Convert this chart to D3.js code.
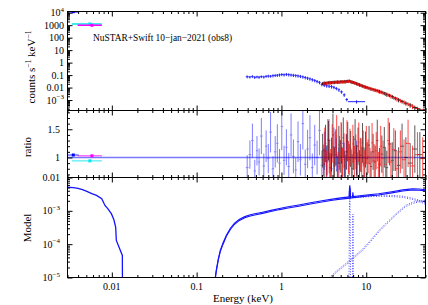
<!DOCTYPE html>
<html><head><meta charset="utf-8">
<script src="https://cdn.jsdelivr.net/npm/d3@7"></script>
<style>
body{margin:0;background:#fff}
svg{display:block}
text{font-family:"Liberation Serif","Times New Roman",serif;fill:#000}
</style></head>
<body><svg id="c" width="428" height="305"></svg>
<script>
// ---------- axis limits & tick labels ----------
const xLimits = [0.003, 50];
const topLimits = [1.45e-4, 1.25e4];
const ratioLimits = [0.645, 1.833];
const modelLimits = [1e-5, 1e-2];
const xTickValues = [0.01, 0.1, 1, 10];
const xTickLabels = ["0.01", "0.1", "1", "10"];
const topTickValues = [1e4, 1e3, 100, 10, 1, 0.1, 0.01, 1e-3];
const topTickLabels = ["10^4", "1000", "100", "10", "1", "0.1", "0.01", "10^−3"];
const ratioTickValues = [1.5, 1];
const ratioTickLabels = ["1.5", "1"];
const modelTickValues = [1e-2, 1e-3, 1e-4, 1e-5];
const modelTickLabels = ["0.01", "10^−3", "10^−4", "10^−5"];
const annotation = "NuSTAR+Swift 10−jan−2021 (obs8)";

// ---------- Swift/UVOT ----------
const uvotLo = [0.00303, 0.00338, 0.00395];
const uvotHi = [0.00406, 0.00763, 0.00763];
const uvotMid = [0.00351, 0.00551, 0.00582];
const uvotCounts = [1.2e4, 1260, 980];
const uvotRatio = [1.044, 0.94, 1.03];
const uvotRatioErr = [0.012, 0.012, 0.012];

// ---------- Swift/XRT ----------
const xrtEdges = [0.38,0.41,0.44,0.47,0.50,0.53,0.56,0.60,0.64,0.68,0.72,0.77,0.82,0.87,0.92,0.98,1.04,1.11,1.18,1.26,1.34,1.43,1.52,1.62,1.73,1.85,1.97,2.10,2.24,2.39,2.55,2.72,2.90,3.10,3.31,3.53,3.77,4.03,4.30,4.60,4.93,5.30,5.70,6.10,9.70];
const xrtCounts = [0.074,0.070,0.078,0.066,0.072,0.068,0.075,0.071,0.080,0.084,0.082,0.090,0.094,0.098,0.104,0.112,0.106,0.115,0.108,0.102,0.098,0.092,0.086,0.080,0.072,0.064,0.057,0.050,0.043,0.037,0.031,0.026,0.018,0.016,0.014,0.013,0.012,0.0105,0.0085,0.0066,0.0045,0.0026,0.0011,0.00074];
const xrtRatio = [0.82,1.05,1.30,0.76,1.12,0.92,1.38,0.85,1.20,0.98,1.45,0.80,1.10,1.25,0.90,1.55,0.95,1.18,0.84,1.40,1.02,0.78,1.28,0.96,1.60,0.88,1.15,1.35,0.82,1.22,1.00,1.48,0.86,1.12,0.92,1.30,0.80,1.18,1.05,0.90,1.25,0.96,1.10,1.00];
const xrtErr = [0.22,0.25,0.30,0.20,0.26,0.24,0.32,0.22,0.28,0.26,0.36,0.22,0.28,0.34,0.25,0.42,0.26,0.32,0.24,0.38,0.30,0.22,0.36,0.28,0.46,0.26,0.34,0.40,0.25,0.36,0.30,0.44,0.26,0.34,0.28,0.38,0.25,0.35,0.30,0.28,0.36,0.30,0.32,0.30];

// ---------- NuSTAR FPMA (black) ----------
const fpmaEdges = [3.00,3.12,3.25,3.38,3.52,3.66,3.81,3.97,4.13,4.30,4.48,4.66,4.85,5.05,5.26,5.47,5.70,5.93,6.17,6.42,6.68,6.96,7.24,7.54,7.85,8.17,8.50,8.85,9.22,9.60,10.0,10.5,11.1,11.7,12.4,13.1,13.9,14.8,15.8,16.9,18.1,19.5,21.1,23.0,25.2,27.8,31.0,35.0,40.0,46.0];
const fpmaCounts = [0.0215,0.0235,0.0228,0.0245,0.0250,0.0262,0.0258,0.0275,0.0270,0.0285,0.0290,0.0282,0.0300,0.0305,0.0298,0.0312,0.0320,0.0330,0.0345,0.0305,0.0280,0.0262,0.0235,0.0212,0.0190,0.0170,0.0155,0.0138,0.0125,0.0112,0.0102,0.0090,0.0080,0.0071,0.0064,0.0057,0.0050,0.0043,0.0035,0.0029,0.0024,0.0019,0.0014,0.00105,0.00078,0.00056,0.00040,0.00025,0.00016];
const fpmaRatio = [1.12,0.88,1.25,0.95,1.30,0.82,1.05,1.40,0.90,1.18,0.78,1.22,1.02,0.92,1.35,0.85,1.10,1.28,0.96,1.15,0.80,1.08,1.32,0.94,1.20,0.86,1.04,1.26,0.90,1.14,0.98,1.22,0.84,1.10,0.92,1.30,0.88,1.06,1.18,0.82,1.24,0.95,1.12,0.86,1.20,1.00,0.90,1.15,1.05];
const fpmaErr = [0.30,0.28,0.33,0.27,0.35,0.26,0.30,0.38,0.27,0.32,0.25,0.34,0.29,0.27,0.36,0.26,0.31,0.35,0.28,0.32,0.26,0.30,0.36,0.28,0.33,0.27,0.30,0.35,0.28,0.32,0.29,0.34,0.27,0.32,0.29,0.37,0.29,0.33,0.36,0.30,0.38,0.32,0.36,0.32,0.40,0.36,0.35,0.42,0.40];

// ---------- NuSTAR FPMB (red) ----------
const fpmbEdges = [3.06,3.18,3.31,3.45,3.59,3.73,3.89,4.05,4.21,4.39,4.57,4.75,4.95,5.15,5.36,5.58,5.81,6.05,6.30,6.55,6.82,7.10,7.39,7.69,8.01,8.33,8.67,9.03,9.41,9.80,10.25,10.8,11.4,12.05,12.75,13.5,14.35,15.3,16.35,17.5,18.8,20.3,22.0,24.1,26.5,29.4,33.0,37.5,43.0,50.0];
const fpmbCounts = [0.0205,0.0226,0.0220,0.0236,0.0244,0.0248,0.0255,0.0262,0.0266,0.0274,0.0280,0.0276,0.0288,0.0296,0.0292,0.0302,0.0310,0.0318,0.0325,0.0290,0.0268,0.0245,0.0222,0.0200,0.0180,0.0162,0.0146,0.0130,0.0118,0.0106,0.0096,0.0085,0.0075,0.0067,0.0060,0.0052,0.0045,0.0038,0.0032,0.0026,0.0021,0.0016,0.00125,0.00092,0.00068,0.00048,0.00032,0.00021,0.00014];
const fpmbRatio = [0.95,1.20,0.85,1.32,1.02,0.88,1.25,0.92,1.15,1.38,0.84,1.08,1.28,0.90,1.12,0.80,1.30,1.00,1.18,0.87,1.24,0.93,1.10,0.83,1.27,1.05,0.91,1.16,0.86,1.22,1.02,0.89,1.26,0.94,1.12,0.82,1.20,0.98,0.88,1.30,0.92,1.14,0.80,1.10,0.96,1.25,0.85,1.05,0.98];
const fpmbErr = [0.28,0.33,0.27,0.36,0.30,0.27,0.34,0.28,0.31,0.37,0.26,0.30,0.35,0.27,0.31,0.25,0.36,0.29,0.33,0.27,0.34,0.28,0.31,0.26,0.35,0.30,0.28,0.32,0.27,0.34,0.30,0.28,0.35,0.30,0.33,0.28,0.36,0.32,0.30,0.40,0.34,0.38,0.32,0.38,0.36,0.42,0.36,0.40,0.38];

// ---------- Model components ----------
const modelE = [0.160,0.170,0.180,0.190,0.205,0.225,0.25,0.28,0.32,0.37,0.43,0.50,0.60,0.75,0.95,1.2,1.6,2.2,3.0,4.0,5.0,6.0,6.30,6.34,6.40,6.46,6.52,6.9,6.96,7.02,8.0,10,14,20,27,35,42,50];
const modelA = [5e-6,1.6e-5,3.6e-5,6.5e-5,1.1e-4,1.9e-4,3.0e-4,4.3e-4,5.6e-4,6.7e-4,7.6e-4,8.3e-4,9.1e-4,1.03e-3,1.18e-3,1.32e-3,1.5e-3,1.75e-3,2.0e-3,2.25e-3,2.45e-3,2.58e-3,2.6e-3,4.5e-3,5.8e-3,4.5e-3,2.62e-3,2.66e-3,3.6e-3,2.68e-3,2.8e-3,3.0e-3,3.25e-3,3.75e-3,4.25e-3,4.55e-3,4.5e-3,4.3e-3];
const modelB = [4.4e-6,1.45e-5,3.3e-5,6.0e-5,1.0e-4,1.75e-4,2.75e-4,3.95e-4,5.15e-4,6.2e-4,7.0e-4,7.65e-4,8.4e-4,9.5e-4,1.09e-3,1.21e-3,1.38e-3,1.61e-3,1.84e-3,2.07e-3,2.25e-3,2.37e-3,2.4e-3,3.9e-3,4.9e-3,3.9e-3,2.41e-3,2.45e-3,3.1e-3,2.47e-3,2.58e-3,2.76e-3,3.0e-3,3.45e-3,3.92e-3,4.2e-3,4.15e-3,3.96e-3];
const uvModelE = [0.0030,0.0035,0.0040,0.0045,0.0050,0.0058,0.0066,0.0076,0.0083,0.0090,0.0099,0.0106,0.0111,0.0112,0.0113,0.0122,0.0133,0.01335];
const uvModel = [5.1e-3,5.0e-3,4.7e-3,4.3e-3,3.9e-3,3.3e-3,2.9e-3,2.3e-3,1.45e-3,1.15e-3,8.1e-4,5.3e-4,3.2e-4,2.0e-4,1.3e-4,8e-5,4.6e-5,5e-6];
const cutoffE = [6,7,10,14,20,27,35,42,50];
const cutoffA = [2.55e-3,2.65e-3,2.85e-3,2.95e-3,2.9e-3,2.75e-3,2.4e-3,2.1e-3,1.7e-3];
const cutoffB = [2.35e-3,2.44e-3,2.62e-3,2.72e-3,2.67e-3,2.53e-3,2.2e-3,1.93e-3,1.56e-3];
const reflE = [3.3,3.67,4.5,5.7,7.2,9.1,11.5,14.1,18,22.3,29,35,41,50];
const reflA = [5e-6,1e-5,1.6e-5,2.6e-5,4.3e-5,7.2e-5,1.4e-4,2.6e-4,4.8e-4,8.1e-4,1.45e-3,1.8e-3,2.0e-3,2.1e-3];
const reflB = [4.5e-6,9e-6,1.45e-5,2.35e-5,3.9e-5,6.5e-5,1.27e-4,2.35e-4,4.35e-4,7.4e-4,1.32e-3,1.65e-3,1.83e-3,1.92e-3];
const feKaE = [6.22,6.28,6.34,6.40,6.46,6.52,6.58];
const feKa = [1e-6,2e-5,1.1e-3,3.0e-3,1.1e-3,2e-5,1e-6];
const feXXVIE = [6.88,6.92,6.97,7.02,7.06];
const feXXVI = [1e-6,6e-5,8e-4,6e-5,1e-6];

// ---------- layout ----------
const L = 67.5, R = 425.5;
const P = {
  top:   {y0: 11.5,  y1: 110.5},
  ratio: {y0: 110.5, y1: 177.5},
  model: {y0: 177.5, y1: 277.5}
};
const svg = d3.select("#c");
const x = d3.scaleLog().domain(xLimits).range([L, R]);
const yTop = d3.scaleLog().domain(topLimits).range([P.top.y1, P.top.y0]);
const yRat = d3.scaleLinear().domain(ratioLimits).range([P.ratio.y1, P.ratio.y0]);
const yMod = d3.scaleLog().domain(modelLimits).range([P.model.y1, P.model.y0]);

const defs = svg.append("defs");
Object.entries(P).forEach(([k, p]) => {
  defs.append("clipPath").attr("id", "clip-" + k).append("rect")
    .attr("x", L).attr("y", p.y0).attr("width", R - L).attr("height", p.y1 - p.y0);
});
const gTop = svg.append("g").attr("clip-path", "url(#clip-top)");
const gRat = svg.append("g").attr("clip-path", "url(#clip-ratio)");
const gMod = svg.append("g").attr("clip-path", "url(#clip-model)");

// cross drawer
function crosses(g, edges, vals, errs, yS, color, w, op) {
  const idx = d3.range(vals.length);
  const gg = g.append("g").attr("stroke", color).attr("stroke-width", w).attr("opacity", op);
  gg.selectAll(null).data(idx).join("line")
    .attr("x1", i => x(edges[i])).attr("x2", i => x(edges[i + 1]))
    .attr("y1", i => yS(vals[i])).attr("y2", i => yS(vals[i]));
  gg.selectAll(null).data(idx).join("line")
    .attr("x1", i => x(Math.sqrt(edges[i] * edges[i + 1])))
    .attr("x2", i => x(Math.sqrt(edges[i] * edges[i + 1])))
    .attr("y1", i => yS(vals[i] - errs[i])).attr("y2", i => yS(vals[i] + errs[i]));
}
const relErr = (c, r, e) => c.map((v, i) => v * e[i] / r[i]);

// ---- top panel ----
const uvColors = ["#0000ff", "#00e5ee", "#ff00ff"];
const uvOrder = [1, 2, 0];
uvOrder.forEach(i => {
  gTop.append("line").attr("stroke", uvColors[i]).attr("stroke-width", 1.6)
    .attr("x1", x(uvotLo[i])).attr("x2", x(uvotHi[i]))
    .attr("y1", yTop(uvotCounts[i])).attr("y2", yTop(uvotCounts[i]));
  gTop.append("rect").attr("fill", uvColors[i])
    .attr("x", x(uvotMid[i]) - 1.5).attr("y", yTop(uvotCounts[i]) - 1.5)
    .attr("width", 3).attr("height", 3);
});
crosses(gTop, xrtEdges, xrtCounts, relErr(xrtCounts, xrtRatio, xrtErr), yTop, "#0000ff", 1, 0.85);
crosses(gTop, fpmaEdges, fpmaCounts, relErr(fpmaCounts, fpmaRatio, fpmaErr), yTop, "#000000", 1, 0.85);
crosses(gTop, fpmbEdges, fpmbCounts, relErr(fpmbCounts, fpmbRatio, fpmbErr), yTop, "#ff0000", 1, 0.85);

svg.append("text").attr("x", 93).attr("y", 41).attr("font-size", "9.4px").text(annotation);

// ---- ratio panel ----
gRat.append("line").attr("stroke", "#7878ff").attr("stroke-width", 1.3)
  .attr("x1", L).attr("x2", R).attr("y1", yRat(1)).attr("y2", yRat(1));
crosses(gRat, xrtEdges, xrtRatio, xrtErr, yRat, "#0000ff", 1, 0.5);
crosses(gRat, fpmaEdges, fpmaRatio, fpmaErr, yRat, "#000000", 1, 0.65);
crosses(gRat, fpmbEdges, fpmbRatio, fpmbErr, yRat, "#ff0000", 1, 0.7);
uvOrder.forEach(i => {
  gRat.append("line").attr("stroke", uvColors[i]).attr("stroke-width", 1.2).attr("opacity", 0.7)
    .attr("x1", x(uvotLo[i])).attr("x2", x(uvotHi[i]))
    .attr("y1", yRat(uvotRatio[i])).attr("y2", yRat(uvotRatio[i]));
  gRat.append("line").attr("stroke", uvColors[i]).attr("stroke-width", 1)
    .attr("x1", x(uvotMid[i])).attr("x2", x(uvotMid[i]))
    .attr("y1", yRat(uvotRatio[i] - uvotRatioErr[i])).attr("y2", yRat(uvotRatio[i] + uvotRatioErr[i]));
  gRat.append("rect").attr("fill", uvColors[i])
    .attr("x", x(uvotMid[i]) - 1.5).attr("y", yRat(uvotRatio[i]) - 1.5)
    .attr("width", 3).attr("height", 3);
});

// ---- model panel ----
const line = (E, V) => d3.line().x((d, i) => x(E[i])).y((d, i) => yMod(V[i]))(V);
function mpath(E, V, w, dash, op) {
  gMod.append("path").attr("d", line(E, V)).attr("fill", "none")
    .attr("stroke", "#1414ff").attr("stroke-width", w).attr("opacity", op)
    .attr("stroke-dasharray", dash);
}
mpath(reflA && reflE, reflA, 1, "1,1.6", 0.75);
mpath(reflE, reflB, 1, "1,1.6", 0.75);
mpath(cutoffE, cutoffA, 1, "1,1.6", 0.75);
mpath(cutoffE, cutoffB, 1, "1,1.6", 0.75);
mpath(feKaE, feKa, 1, "1,1.6", 0.75);
mpath(feXXVIE, feXXVI, 1, "1,1.6", 0.75);
mpath(modelE, modelB, 1.1, null, 1);
mpath(modelE, modelA, 1.1, null, 1);
mpath(uvModelE, uvModel, 1.3, null, 1);

// ---------- frames & ticks ----------
const isMajor = v => Math.abs(Math.log10(v) - Math.round(Math.log10(v))) < 1e-9;
const xt = x.ticks();
const xMajor = xt.filter(isMajor), xMinor = xt.filter(v => !isMajor(v));
function xAxes(p) {
  [[d3.axisBottom, p.y1], [d3.axisTop, p.y0]].forEach(([ax, yy]) => {
    svg.append("g").attr("transform", `translate(0,${yy})`)
      .call(ax(x).tickValues(xMajor).tickSize(-5).tickFormat(""))
      .call(g => g.select(".domain").remove());
    svg.append("g").attr("transform", `translate(0,${yy})`)
      .call(ax(x).tickValues(xMinor).tickSize(-2.5).tickFormat(""))
      .call(g => g.select(".domain").remove());
  });
}
function yAxes(yS, major, minor) {
  [[d3.axisLeft, L], [d3.axisRight, R]].forEach(([ax, xx]) => {
    svg.append("g").attr("transform", `translate(${xx},0)`)
      .call(ax(yS).tickValues(major).tickSize(-5).tickFormat(""))
      .call(g => g.select(".domain").remove());
    svg.append("g").attr("transform", `translate(${xx},0)`)
      .call(ax(yS).tickValues(minor).tickSize(-2.5).tickFormat(""))
      .call(g => g.select(".domain").remove());
  });
}
Object.values(P).forEach(p => {
  svg.append("rect").attr("x", L).attr("y", p.y0).attr("width", R - L).attr("height", p.y1 - p.y0)
    .attr("fill", "none").attr("stroke", "#000").attr("stroke-width", 1);
  xAxes(p);
});
const tt = yTop.ticks();
yAxes(yTop, tt.filter(isMajor), tt.filter(v => !isMajor(v)));
const mt = yMod.ticks();
yAxes(yMod, mt.filter(isMajor), mt.filter(v => !isMajor(v)));
const rt = d3.range(7, 19).map(v => v / 10);
yAxes(yRat, rt.filter(v => Math.abs(v * 2 - Math.round(v * 2)) < 1e-9), rt.filter(v => Math.abs(v * 2 - Math.round(v * 2)) > 1e-9));
svg.selectAll(".tick line").attr("stroke", "#000").attr("stroke-width", 1);

// tick labels with superscripts
function label(xx, yy, str, anchor, size) {
  const t = svg.append("text").attr("x", xx).attr("y", yy).attr("text-anchor", anchor)
    .attr("font-size", size + "px");
  const parts = str.split("^");
  t.append("tspan").text(parts[0]);
  if (parts[1]) t.append("tspan").attr("dy", -size * 0.42).attr("font-size", (size * 0.7) + "px").text(parts[1]);
  return t;
}
topTickValues.forEach((v, i) => label(64, yTop(v) + 3.5, topTickLabels[i], "end", 10));
ratioTickValues.forEach((v, i) => label(60, yRat(v) + 3.5, ratioTickLabels[i], "end", 10));
modelTickValues.forEach((v, i) => label(60, yMod(v) + 3.5, modelTickLabels[i], "end", 10));
xTickValues.forEach((v, i) => label(x(v), 290, xTickLabels[i], "middle", 10));

// axis titles
function vtitle(cx, cy, parts) {
  const t = svg.append("text").attr("transform", `translate(${cx},${cy}) rotate(-90)`)
    .attr("text-anchor", "middle").attr("font-size", "11px");
  parts.forEach(([s, sup]) => {
    if (sup) t.append("tspan").attr("dy", -4).attr("font-size", "7.5px").text(s);
    else t.append("tspan").attr("dy", t.selectAll("tspan").size() && parts.length > 1 ? 4 : 0).text(s);
  });
}
vtitle(31, 67, [["counts s"], ["−1", true], [" keV"], ["−1", true]]);
vtitle(31, 147, [["ratio"]]);
vtitle(31, 228, [["Model"]]);
svg.append("text").attr("x", 243).attr("y", 302).attr("text-anchor", "middle")
  .attr("font-size", "11px").text("Energy (keV)");
</script>
</body></html>
